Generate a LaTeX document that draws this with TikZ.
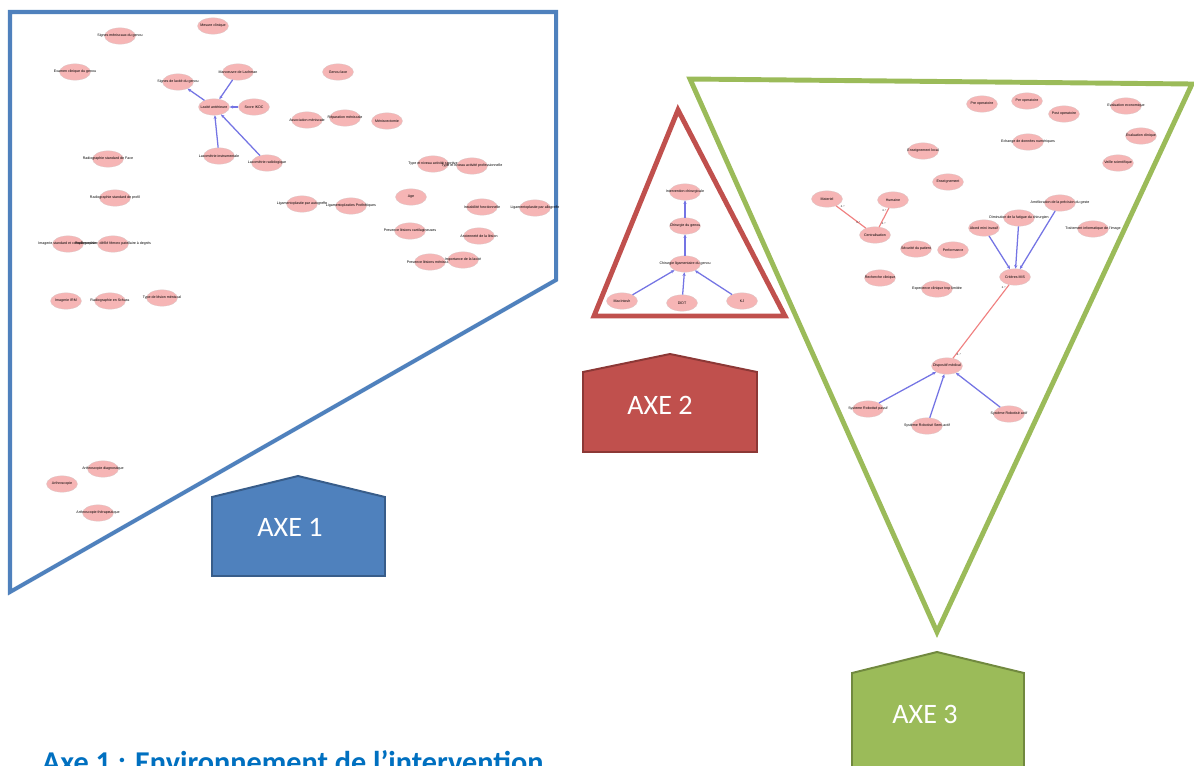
\documentclass[tikz,border=0pt]{standalone}
\usepackage{fontspec}
\setmainfont{Liberation Sans}
\newfontfamily\calibri{Carlito}
\usetikzlibrary{shapes.geometric,arrows.meta}
\definecolor{axeblue}{HTML}{4F81BD}
\definecolor{axeblueline}{HTML}{385D8A}
\definecolor{axered}{HTML}{C0504D}
\definecolor{axeredline}{HTML}{8C3836}
\definecolor{axegreen}{HTML}{9BBB59}
\definecolor{axegreenline}{HTML}{71893F}
\definecolor{nodepink}{HTML}{F6B5B5}
\definecolor{pinkline}{HTML}{DCC8C8}
\definecolor{arrowblue}{HTML}{7474E4}
\definecolor{linered}{HTML}{F08080}
\definecolor{titleblue}{HTML}{0070C0}
\newcommand{\lbl}[1]{\makebox[0pt]{#1}}
\tikzstyle{ent} = [ellipse, draw=pinkline, fill=nodepink, minimum width=1.55cm, minimum height=0.82cm, inner sep=0pt, font=\fontsize{5.1}{5.5}\selectfont]
\tikzstyle{dep} = [draw=arrowblue, line width=1.8pt, -{Stealth[length=5pt,width=4.5pt]}]
\tikzstyle{assoc} = [draw=linered, line width=1.6pt]
\tikzstyle{mult} = [font=\fontsize{3.6}{3.8}\selectfont, inner sep=1pt]
\tikzstyle{axebox} = [line width=2.8pt, line join=miter]
\tikzstyle{axetext} = [text=white, font=\calibri\fontsize{40}{44}\selectfont]

\begin{document}
\begin{tikzpicture}[x=0.05cm, y=-0.05cm]
\clip (0,0) rectangle (1194,765);
\fill[white] (0,0) rectangle (1194,765);

% axe 1
\draw[draw=axeblue, line width=5.7pt, line join=miter] (10,12) -- (556,12) -- (556,280) -- (10,592) -- cycle;
\filldraw[axebox, fill=axeblue, draw=axeblueline] (212,576) -- (212,497) -- (298,476) -- (385,497) -- (385,576) -- cycle;
\node[axetext] (axe1) at (290,527) {AXE 1};

\node[ent] (smen) at (120,36) {\lbl{Signes méniscaux du genou}};
\node[ent] (mesure) at (213,26) {\lbl{Mesure clinique}};
\node[ent] (examen) at (75,72) {\lbl{Examen clinique du genou}};
\node[ent] (slax) at (178,82) {\lbl{Signes de laxité du genou}};
\node[ent] (lachman) at (238,72) {\lbl{Manoeuvre de Lachman}};
\node[ent] (laxe) at (338,72) {\lbl{Genou laxe}};
\node[ent] (lax) at (214,107) {\lbl{Laxité antérieure}};
\node[ent] (ikdc) at (254,107) {\lbl{Score IKDC}};
\node[ent] (assmen) at (307,120) {\lbl{Association méniscale}};
\node[ent] (repmen) at (345,118) {\lbl{Réparation méniscale}};
\node[ent] (menis) at (387,121) {\lbl{Méniscectomie}};
\node[ent] (linstr) at (219,156) {\lbl{Laxométrie instrumentale}};
\node[ent] (lradio) at (267,163) {\lbl{Laxométrie radiologique}};
\node[ent] (rface) at (108,159) {\lbl{Radiographie standard de Face}};
\node[ent] (rprofil) at (115,198) {\lbl{Radiographie standard de profil}};
\node[ent] (imstd) at (68,244) {\lbl{Imagerie standard et complémentaire}};
\node[ent] (defile) at (113,244) {\lbl{Radiographie : défilé fémoro patellaire à degrés}};
\node[ent] (irm) at (66,301) {\lbl{Imagerie IRM}};
\node[ent] (schuss) at (110,301) {\lbl{Radiographie en Schuss}};
\node[ent] (tlesion) at (162,298) {\lbl{Type de lésion méniscal}};
\node[ent] (sport) at (433,164) {\lbl{Type et niveau activité sportive}};
\node[ent] (pro) at (472,166) {\lbl{Type et niveau activité professionnelle}};
\node[ent] (age) at (411,197) {\lbl{Age}};
\node[ent] (auto) at (302,204) {\lbl{Ligamentoplastie par autogreffe}};
\node[ent] (proth) at (351,206) {\lbl{Ligamentoplasties Prothétiques}};
\node[ent] (instab) at (482,207) {\lbl{Instabilité fonctionnelle}};
\node[ent] (allo) at (535,208) {\lbl{Ligamentoplastie par allogreffe}};
\node[ent] (cartil) at (410,231) {\lbl{Presence lésions cartilagineuses}};
\node[ent] (ancien) at (479,236) {\lbl{Ancienneté de la lésion}};
\node[ent] (lmen) at (430,262) {\lbl{Presence lésions méniscales}};
\node[ent] (impor) at (463,260) {\lbl{Importance de la laxité}};
\node[ent] (adiag) at (103,469) {\lbl{Arthroscopie diagnostique}};
\node[ent] (arthro) at (62,484) {\lbl{Arthroscopie}};
\node[ent] (ather) at (98,513) {\lbl{Arthroscopie thérapeutique}};

\draw[dep] (lax) -- (slax);
\draw[dep] (lachman) -- (lax);
\draw[dep] (ikdc) -- (lax);
\draw[dep] (linstr) -- (lax);
\draw[dep] (lradio) -- (lax);

% axe 2
\draw[draw=axered, line width=7pt, line join=miter] (678,110) -- (785,316) -- (594,316) -- cycle;
\filldraw[axebox, fill=axered, draw=axeredline] (583,452) -- (583,372) -- (670,354) -- (757,372) -- (757,452) -- cycle;
\node[axetext] (axe2) at (660,405) {AXE 2};

\node[ent] (interv) at (685,192) {\lbl{Intervention chirurgicale}};
\node[ent] (chgen) at (685,226) {\lbl{Chirurgie du genou}};
\node[ent] (chlig) at (685,264) {\lbl{Chirurgie ligamentaire du genou}};
\node[ent] (macin) at (622,301) {\lbl{MacIntosh}};
\node[ent] (didt) at (682,303) {\lbl{DIDT}};
\node[ent] (kj) at (742,301) {\lbl{KJ}};

\draw[dep] (macin) -- (chlig);
\draw[dep] (didt) -- (chlig);
\draw[dep] (kj) -- (chlig);
\draw[dep] (chlig) -- (chgen);
\draw[dep] (chgen) -- (interv);

% axe 3
\draw[draw=axegreen, line width=7pt, line join=miter] (690,79) -- (1192,84) -- (937,632) -- cycle;
\filldraw[axebox, fill=axegreen, draw=axegreenline] (852,780) -- (852,673) -- (937,652) -- (1024,673) -- (1024,780) -- cycle;
\node[axetext] (axe3) at (925,714) {AXE 3};

\node[ent] (preop) at (982,104) {\lbl{Pre operatoire}};
\node[ent] (perop) at (1027,101) {\lbl{Per operatoire}};
\node[ent] (postop) at (1064,114) {\lbl{Post operatoire}};
\node[ent] (evaleco) at (1126,106) {\lbl{Evaluation economique}};
\node[ent] (evalcli) at (1141,136) {\lbl{Evaluation clinique}};
\node[ent] (veille) at (1118,163) {\lbl{Veille scientifique}};
\node[ent] (echange) at (1028,142) {\lbl{Echange de données numériques}};
\node[ent] (enslocal) at (923,151) {\lbl{Enseignement local}};
\node[ent] (ens) at (948,182) {\lbl{Enseignement}};
\node[ent] (materiel) at (827,199) {\lbl{Materiel}};
\node[ent] (humaine) at (893,200) {\lbl{Humaine}};
\node[ent] (central) at (875,235) {\lbl{Centralisation}};
\node[ent] (secu) at (916,249) {\lbl{Sécurité du patient}};
\node[ent] (perf) at (953,250) {\lbl{Performance}};
\node[ent] (rech) at (880,278) {\lbl{Recherche clinique}};
\node[ent] (exper) at (937,289) {\lbl{Experience clinique trop limitée}};
\node[ent] (abord) at (984,228) {\lbl{Abord mini invasif}};
\node[ent] (fatigue) at (1019,218) {\lbl{Diminution de la fatigue du chirurgien}};
\node[ent] (precis) at (1060,203) {\lbl{Amélioration de la précision du geste}};
\node[ent] (image) at (1093,229) {\lbl{Traitement informatique de l'image}};
\node[ent] (mis) at (1015,277) {\lbl{Critères MIS}};
\node[ent] (dispo) at (947,366) {\lbl{Dispositif médical}};
\node[ent] (passif) at (868,409) {\lbl{Systeme Robotisé passif}};
\node[ent] (semi) at (927,426) {\lbl{Système Robotisé Semi-actif}};
\node[ent] (actif) at (1009,414) {\lbl{Système Robotisé actif}};

\draw[assoc] (materiel) -- node[mult, pos=0.12, above right] {0..*} node[mult, pos=0.85, above left] {0..*} (central);
\draw[assoc] (humaine) -- node[mult, pos=0.12, left] {0..*} node[mult, pos=0.85, right] {0..*} (central);
\draw[assoc] (mis) -- node[mult, pos=0.04, left] {0..*} node[mult, pos=0.95, right] {0..*} (dispo);
\draw[dep] (abord) -- (mis);
\draw[dep] (fatigue) -- (mis);
\draw[dep] (precis) -- (mis);
\draw[dep] (passif) -- (dispo);
\draw[dep] (semi) -- (dispo);
\draw[dep] (actif) -- (dispo);

\node[anchor=base west, inner sep=0pt, text=titleblue, font=\calibri\bfseries\fontsize{43}{47}\selectfont] (titre) at (42,772) {Axe 1 : Environnement de l’intervention};
\end{tikzpicture}
\end{document}
